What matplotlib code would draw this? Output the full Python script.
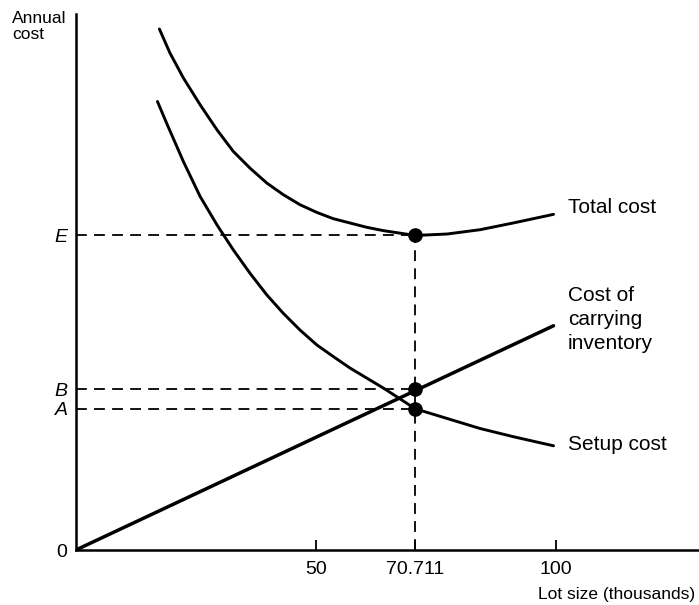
import matplotlib
matplotlib.use("Agg")
import matplotlib.pyplot as plt

plt.rcParams['font.family'] = ['Liberation Sans', 'DejaVu Sans']

# Values (lot size in thousands, cost in arbitrary units)
q_opt = 70.711
cost_E = 65.5
cost_B = 33.5
cost_A = 29.4

q_setup = [17.0, 18.9, 22.4, 25.9, 29.4, 32.8, 36.3, 39.8, 43.2, 46.7, 50.2, 53.6, 57.1, 60.6,
           64.1, 70.711, 77.3, 84.2, 91.1, 99.5]
setup = [93.4, 88.9, 80.9, 73.6, 67.7, 62.5, 57.6, 53.1, 49.3, 45.8, 42.7, 40.3, 37.9, 35.8,
         33.7, 29.4, 27.4, 25.3, 23.6, 21.7]

q_total = [17.4, 19.6, 22.4, 25.9, 29.4, 32.8, 36.3, 39.8, 43.2, 46.7, 50.2, 53.6, 57.1, 60.6,
           64.1, 70.711, 77.3, 84.2, 91.1, 99.5]
total = [108.5, 103.5, 98.3, 92.7, 87.5, 83.0, 79.5, 76.4, 74.0, 71.9, 70.3, 69.0, 68.1, 67.2,
         66.5, 65.5, 65.8, 66.7, 68.1, 69.9]

q_carry = [0, 99.5]
carry = [0, 46.7]

x_ticks = [50, q_opt, 100]
x_labels = ['50', '70.711', '100']
y_ticks = [0, cost_A, cost_B, cost_E]
y_labels = ['0', 'A', 'B', 'E']

fig = plt.figure(figsize=(6.99, 6.05), dpi=100)
ax = fig.add_axes([0.1085, 0.0909, 0.8915, 0.8866])

lw = 2.1
ax.plot(q_total, total, color='black', lw=lw, solid_capstyle='round', solid_joinstyle='round')
ax.plot(q_setup, setup, color='black', lw=lw, solid_capstyle='round', solid_joinstyle='round')
ax.plot(q_carry, carry, color='black', lw=lw + 0.4, solid_capstyle='round')

# dashed guide lines
dash = dict(color='black', lw=1.3, dashes=(6, 4))
for c in [cost_E, cost_B, cost_A]:
    ax.plot([0, q_opt], [c, c], **dash)
ax.plot([q_opt, q_opt], [0, cost_E], **dash)

ax.plot([q_opt] * 3, [cost_E, cost_B, cost_A], 'o', color='black', ms=9.5, zorder=5)

ax.set_xlim(0, 129.8)
ax.set_ylim(0, 111.7)

for s in ['top', 'right']:
    ax.spines[s].set_visible(False)
for s in ['left', 'bottom']:
    ax.spines[s].set_linewidth(1.8)

ax.set_xticks(x_ticks)
ax.set_xticklabels(x_labels, fontsize=14)
ax.tick_params(axis='x', direction='in', length=7, width=1.3, pad=8)

ax.set_yticks(y_ticks)
ax.set_yticklabels(y_labels, fontsize=14)
ax.tick_params(axis='y', length=0, pad=6)
for lab in ax.get_yticklabels()[1:]:
    lab.set_fontstyle('italic')

# curve labels
ax.text(102.5, 71.3, 'Total cost', fontsize=15, va='center', ha='left')
ax.text(102.5, 55.0, 'Cost of\ncarrying\ninventory', fontsize=15, va='top', ha='left',
        linespacing=1.35)
ax.text(102.5, 21.9, 'Setup cost', fontsize=15, va='center', ha='left')

fig.text(12 / 699, 1 - 11 / 605, 'Annual\ncost', fontsize=12.5, va='top', ha='left',
         linespacing=1.05)
fig.text(695 / 699, 1 - 594 / 605, 'Lot size (thousands)', fontsize=12.5, va='center', ha='right')

fig.savefig('out.png', dpi=100)
